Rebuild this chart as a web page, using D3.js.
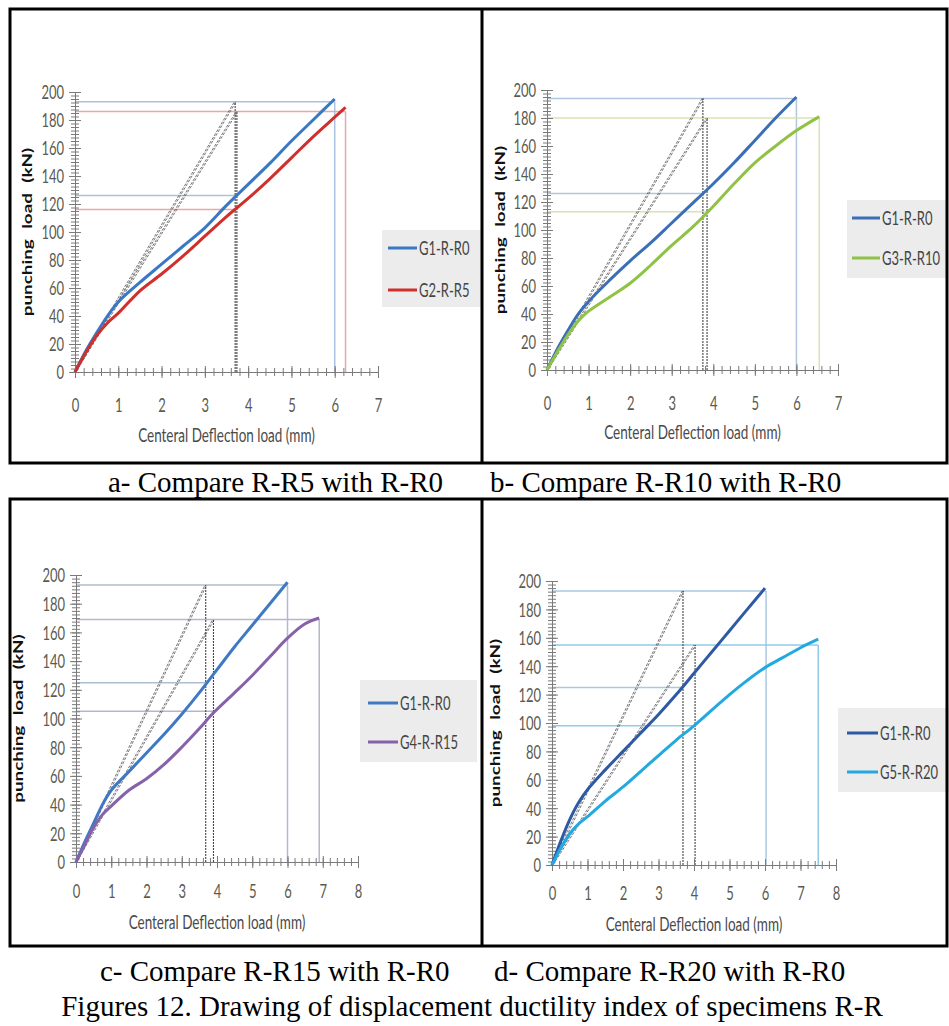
<!DOCTYPE html>
<html>
<head>
<meta charset="utf-8">
<script src="https://cdn.jsdelivr.net/npm/d3@7"></script>
<style>
  body { margin: 0; background: #fff; }
  svg { display: block; }
</style>
</head>
<body>
<script>
// ticks
var loadTicks = [0, 20, 40, 60, 80, 100, 120, 140, 160, 180, 200];
var deflTicks7 = [0, 1, 2, 3, 4, 5, 6, 7];
var deflTicks8 = [0, 1, 2, 3, 4, 5, 6, 7, 8];

// a - R-R5 vs R-R0
var aG1Defl = [0, 0.25, 0.5, 0.75, 1, 1.5, 2, 2.5, 3, 3.5, 4, 4.5, 5, 5.5, 6];
var aG1Load = [0, 15, 28, 40, 50, 64, 77, 90, 103, 119, 134, 149, 165, 180, 195];
var aG2Defl = [0, 0.25, 0.5, 0.75, 1, 1.5, 2, 2.5, 3, 3.5, 4, 4.5, 5, 5.5, 6, 6.25];
var aG2Load = [0, 14, 26, 35, 42, 58, 70, 83, 97, 111, 124, 138, 153, 168, 182, 189];
var aUltDefl = [6, 6.25], aUltLoad = [193, 186];
var aYieldDefl = [3.70, 3.74], aYieldLoad = [126, 116];

// b - R-R10 vs R-R0
var bG1Defl = [0, 0.25, 0.5, 0.75, 1, 1.5, 2, 2.5, 3, 3.5, 4, 4.5, 5, 5.5, 6];
var bG1Load = [0, 15, 28, 40, 49, 64, 78, 91, 105, 119, 133, 148, 164, 180, 195];
var bG3Defl = [0, 0.25, 0.5, 0.75, 1, 1.5, 2, 2.5, 3, 3.5, 4, 4.5, 5, 5.5, 6, 6.55];
var bG3Load = [0, 13, 25, 35, 42, 52, 62, 75, 89, 102, 117, 133, 148, 160, 171, 181];
var bUltDefl = [6, 6.55], bUltLoad = [194, 180];
var bYieldDefl = [3.75, 3.85], bYieldLoad = [126, 113];

// c - R-R15 vs R-R0
var cG1Defl = [0, 0.25, 0.5, 0.75, 1, 1.5, 2, 2.5, 3, 3.5, 4, 4.5, 5, 5.5, 6];
var cG1Load = [0, 14, 27, 40, 50, 63, 76, 89, 103, 118, 134, 150, 165, 180, 195];
var cG4Defl = [0, 0.25, 0.5, 0.75, 1, 1.5, 2, 2.5, 3, 3.5, 3.9, 4.5, 5, 5.5, 6, 6.5, 6.9];
var cG4Load = [0, 12, 24, 33, 39, 50, 58, 68, 80, 93, 104, 118, 130, 143, 156, 166, 170];
var cUltDefl = [6, 6.9], cUltLoad = [193, 169];
var cYieldDefl = [3.68, 3.9], cYieldLoad = [125, 105];

// d - R-R20 vs R-R0
var dG1Defl = [0, 0.25, 0.5, 0.75, 1, 1.5, 2, 2.5, 3, 3.5, 4, 4.5, 5, 5.5, 6];
var dG1Load = [0, 17, 32, 44, 53, 67, 80, 93, 106, 120, 135, 150, 165, 180, 195];
var dG5Defl = [0, 0.25, 0.5, 0.75, 1, 1.5, 2, 2.5, 3, 3.5, 4, 4.5, 5, 5.5, 6, 6.5, 7, 7.5];
var dG5Load = [0, 12, 22, 29, 34, 45, 55, 66, 77, 88, 98, 109, 120, 130, 139, 146, 153, 159];
var dUltDefl = [6.03, 7.5], dUltLoad = [193, 155];
var dYieldDefl = [3.69, 4.03], dYieldLoad = [125, 98];

var captionTop = ["a- Compare R-R5 with R-R0", "b- Compare R-R10 with R-R0"];
var captionBottom = ["c- Compare R-R15 with R-R0", "d- Compare R-R20 with R-R0"];
var figCaption = "Figures 12. Drawing of displacement ductility index of specimens R-R";

var SY = 1.45;   // the figure is stretched vertically
var chartFont = "Lato, 'Open Sans', sans-serif";

var svg = d3.select("body").append("svg")
  .attr("width", 949)
  .attr("height", 1026);

function zip(xs, ys) {
  return xs.map(function (v, i) { return [v, ys[i]]; });
}

var panels = [
  { left: 75, right: 378, top: 92, bottom: 372, ticks: deflTicks7, labelOff: 33, titleOff: 63, yTitleX: 27,
    names: ["G1-R-R0", "G2-R-R5"], colors: ["#3a78c3", "#d0302c"], refColors: ["#a9c2e2", "#e6a9a9"],
    series: [zip(aG1Defl, aG1Load), zip(aG2Defl, aG2Load)],
    ult: zip(aUltDefl, aUltLoad), yieldX: aYieldDefl, yieldLoad: aYieldLoad,
    legend: { x: 382, y: 230, w: 100, h: 77, rows: [248, 290], lx1: 388, lx2: 417 } },
  { left: 547, right: 838, top: 90, bottom: 370, ticks: deflTicks7, labelOff: 33, titleOff: 62, yTitleX: 500,
    names: ["G1-R-R0", "G3-R-R10"], colors: ["#3a6fb8", "#8fc245"], refColors: ["#b2c6de", "#d6e3b2"],
    series: [zip(bG1Defl, bG1Load), zip(bG3Defl, bG3Load)],
    ult: zip(bUltDefl, bUltLoad), yieldX: bYieldDefl, yieldLoad: bYieldLoad,
    legend: { x: 847, y: 200, w: 100, h: 78, rows: [218, 258], lx1: 852, lx2: 880 } },
  { left: 76, right: 358, top: 575, bottom: 862, ticks: deflTicks8, labelOff: 29, titleOff: 60, yTitleX: 18,
    names: ["G1-R-R0", "G4-R-R15"], colors: ["#3f79c3", "#8662aa"], refColors: ["#aebdd2", "#b7b5c9"],
    series: [zip(cG1Defl, cG1Load), zip(cG4Defl, cG4Load)],
    ult: zip(cUltDefl, cUltLoad), yieldX: cYieldDefl, yieldLoad: cYieldLoad,
    legend: { x: 360, y: 680, w: 117, h: 82, rows: [703, 742], lx1: 368, lx2: 398 } },
  { left: 552, right: 836, top: 581, bottom: 865, ticks: deflTicks8, labelOff: 28, titleOff: 59, yTitleX: 495,
    names: ["G1-R-R0", "G5-R-R20"], colors: ["#2d5aa2", "#22a9df"], refColors: ["#a8c9df", "#8fcbe6"],
    series: [zip(dG1Defl, dG1Load), zip(dG5Defl, dG5Load)],
    ult: zip(dUltDefl, dUltLoad), yieldX: dYieldDefl, yieldLoad: dYieldLoad,
    legend: { x: 838, y: 708, w: 111, h: 84, rows: [733, 772], lx1: 847, lx2: 878 } }
];

// stretched text helper
function stretchText(parent, x, y, txt, size, anchor, weight, fill) {
  return parent.append("g")
    .attr("transform", "translate(" + x + "," + y + ") scale(1," + SY + ")")
    .append("text")
    .attr("text-anchor", anchor)
    .attr("dy", "0.36em")
    .style("font-family", chartFont)
    .style("font-size", size + "px")
    .style("font-weight", weight || "normal")
    .attr("fill", fill || "#555")
    .text(txt);
}

panels.forEach(function (p) {
  var xMax = p.ticks[p.ticks.length - 1];
  var x = d3.scaleLinear().domain([0, xMax]).range([p.left, p.right]);
  var y = d3.scaleLinear().domain([0, 200]).range([p.bottom, p.top]);
  var g = svg.append("g");

  // horizontal / vertical reference lines (ultimate and yield)
  p.ult.forEach(function (u, i) {
    g.append("line")
      .attr("x1", x(0)).attr("x2", x(u[0]))
      .attr("y1", y(u[1])).attr("y2", y(u[1]))
      .attr("stroke", p.refColors[i]).attr("stroke-width", 1.5);
    g.append("line")
      .attr("x1", x(u[0])).attr("x2", x(u[0]))
      .attr("y1", y(0)).attr("y2", y(u[1]))
      .attr("stroke", p.refColors[i]).attr("stroke-width", 1.5);
    g.append("line")
      .attr("x1", x(0)).attr("x2", x(p.yieldX[i]))
      .attr("y1", y(p.yieldLoad[i])).attr("y2", y(p.yieldLoad[i]))
      .attr("stroke", p.refColors[i]).attr("stroke-width", 1.5);
  });

  // secant lines (drawn as thin double dashed lines) and yield verticals
  var secant = d3.line().x(function (d) { return x(d[0]); }).y(function (d) { return y(d[1]); });
  p.ult.forEach(function (u, i) {
    [-0.8, 0.8].forEach(function (off) {
      g.append("path")
        .attr("transform", "translate(" + off + ",0)")
        .attr("d", secant([[0, 0], [p.yieldX[i], u[1]]]))
        .attr("fill", "none")
        .attr("stroke", "#555")
        .attr("stroke-width", 0.8)
        .attr("stroke-dasharray", "3,1.5");
    });
    g.append("line")
      .attr("x1", x(p.yieldX[i])).attr("x2", x(p.yieldX[i]))
      .attr("y1", y(0)).attr("y2", y(u[1]))
      .attr("stroke", "#444")
      .attr("stroke-width", 1.1)
      .attr("stroke-dasharray", "2,1");
  });

  // axes: minor ticks
  var yMinor = g.append("g")
    .attr("transform", "translate(" + p.left + ",0)")
    .call(d3.axisLeft(y).tickValues(d3.range(0, 200.1, 2.5)).tickFormat("").tickSizeOuter(0));
  yMinor.select(".domain").remove();
  yMinor.selectAll(".tick line").attr("x1", -4).attr("x2", 4).attr("stroke", "#7a7a7a");

  var xMinor = g.append("g")
    .attr("transform", "translate(0," + p.bottom + ")")
    .call(d3.axisBottom(x).tickValues(d3.range(0, xMax + 0.01, 0.2)).tickFormat("").tickSizeOuter(0));
  xMinor.select(".domain").remove();
  xMinor.selectAll(".tick line").attr("y1", -4).attr("y2", 4).attr("stroke", "#7a7a7a");

  // axes: major ticks with labels
  var yAxis = g.append("g")
    .attr("transform", "translate(" + p.left + ",0)")
    .call(d3.axisLeft(y).tickValues(loadTicks).tickFormat(d3.format("d")).tickSizeOuter(0));
  yAxis.select(".domain").attr("stroke", "#7a7a7a");
  yAxis.selectAll(".tick line").attr("x1", -6).attr("x2", 6).attr("stroke", "#7a7a7a");
  yAxis.selectAll(".tick text")
    .attr("x", 0).attr("dy", "0.36em")
    .attr("transform", "translate(-11,0) scale(1," + SY + ")")
    .style("font-family", chartFont).style("font-size", "13px").attr("fill", "#5a5a50");

  var xAxis = g.append("g")
    .attr("transform", "translate(0," + p.bottom + ")")
    .call(d3.axisBottom(x).tickValues(p.ticks).tickFormat(d3.format("d")).tickSizeOuter(0));
  xAxis.select(".domain").attr("stroke", "#7a7a7a");
  xAxis.selectAll(".tick line").attr("y1", -6).attr("y2", 6).attr("stroke", "#7a7a7a");
  xAxis.selectAll(".tick text")
    .attr("y", 0).attr("dy", "0.36em")
    .attr("transform", "translate(0," + p.labelOff + ") scale(1," + SY + ")")
    .style("font-family", chartFont).style("font-size", "13px").attr("fill", "#5a5a50");

  // curves
  var line = d3.line()
    .x(function (d) { return x(d[0]); })
    .y(function (d) { return y(d[1]); })
    .curve(d3.curveCatmullRom);
  p.series.forEach(function (s, i) {
    g.append("path")
      .attr("d", line(s))
      .attr("fill", "none")
      .attr("stroke", p.colors[i])
      .attr("stroke-width", 3);
  });

  // axis titles
  stretchText(g, (p.left + p.right) / 2, p.bottom + p.titleOff, "Centeral Deflection load (mm)", 13.5, "middle", "normal", "#4a4a4a");
  g.append("g")
    .attr("transform", "translate(" + p.yTitleX + "," + (p.top + p.bottom) / 2 + ") scale(1," + SY + ") rotate(-90)")
    .append("text")
    .attr("text-anchor", "middle")
    .attr("dy", "0.36em")
    .style("font-family", chartFont)
    .style("font-size", "13px")
    .style("font-weight", "bold")
    .style("word-spacing", "4px")
    .attr("fill", "#111")
    .text("punching load (kN)");

  // legend
  var L = p.legend;
  g.append("rect")
    .attr("x", L.x).attr("y", L.y).attr("width", L.w).attr("height", L.h)
    .attr("fill", "#ececec");
  p.names.forEach(function (n, i) {
    g.append("line")
      .attr("x1", L.lx1).attr("x2", L.lx2)
      .attr("y1", L.rows[i]).attr("y2", L.rows[i])
      .attr("stroke", p.colors[i]).attr("stroke-width", 3);
    stretchText(g, L.lx2 + 2, L.rows[i], n, 13, "start", "normal", "#444");
  });
});

// frame of the table
var frame = svg.append("g").attr("fill", "none").attr("stroke", "#000").attr("stroke-width", 3);
frame.append("rect").attr("x", 10).attr("y", 9).attr("width", 937).attr("height", 454);
frame.append("line").attr("x1", 482).attr("x2", 482).attr("y1", 9).attr("y2", 463);
frame.append("rect").attr("x", 10).attr("y", 499).attr("width", 937).attr("height", 447);
frame.append("line").attr("x1", 482).attr("x2", 482).attr("y1", 499).attr("y2", 946);

// captions
var capFont = "'Liberation Serif', 'Times New Roman', serif";
function caption(x, y, txt, anchor) {
  svg.append("text")
    .attr("x", x).attr("y", y)
    .attr("text-anchor", anchor)
    .style("font-family", capFont)
    .style("font-size", "29px")
    .attr("fill", "#000")
    .text(txt);
}
caption(108, 492, captionTop[0], "start");
caption(490, 492, captionTop[1], "start");
caption(100, 981, captionBottom[0], "start");
caption(494, 981, captionBottom[1], "start");
caption(472, 1016, figCaption, "middle");
</script>
</body>
</html>
